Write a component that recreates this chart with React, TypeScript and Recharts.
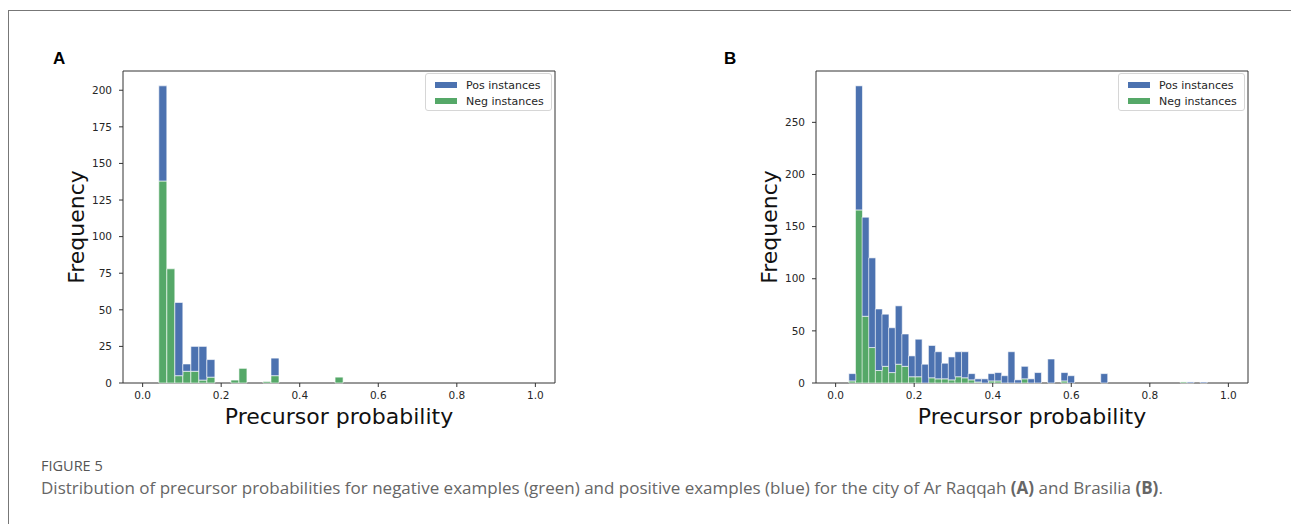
import React from "react";
import { Bar, BarChart, Legend, ReferenceArea, XAxis, YAxis } from "recharts";

const POS_COLOR = "#4C72B0";
const NEG_COLOR = "#55A868";
const AXIS_COLOR = "#333";
const FONT = "'DejaVu Sans', sans-serif";

// bin centres and counts
// A: Ar Raqqah
const binsA = [
	0.0514, 0.0718, 0.0922, 0.1126, 0.133, 0.1534, 0.1738, 0.1942, 0.2146, 0.235,
	0.2554, 0.2758, 0.2962, 0.3166, 0.337, 0.3574, 0.3778, 0.3982, 0.4186, 0.439,
	0.4594, 0.4798, 0.5002,
];
const negA = [138, 78, 5, 8, 8, 2, 4, 0, 0, 2, 10, 0, 0, 1, 5, 0, 0, 0, 0, 0, 0, 0, 4];
const posA = [65, 0, 50, 5, 17, 23, 12, 0, 0, 0, 0, 0, 0, 0, 12, 0, 0, 0, 0, 0, 0, 0, 0];

// B: Brasilia
const binsB = [
	0.042, 0.0589, 0.0758, 0.0926, 0.1095, 0.1264, 0.1433, 0.1602, 0.177, 0.1939,
	0.2108, 0.2277, 0.2446, 0.2614, 0.2783, 0.2952, 0.3121, 0.329, 0.3458, 0.3627,
	0.3796, 0.3965, 0.4134, 0.4302, 0.4471, 0.464, 0.4809, 0.4978, 0.5146, 0.5315,
	0.5484, 0.5653, 0.5822, 0.599, 0.6159, 0.6328, 0.6497, 0.6666, 0.6834, 0.7003,
	0.7172, 0.7341, 0.751, 0.7678, 0.7847, 0.8016, 0.8185, 0.8354, 0.8522, 0.8691,
	0.886, 0.9029, 0.9198, 0.9366,
];
const negB = [
	2, 166, 64, 34, 12, 16, 10, 18, 16, 6,
	6, 0, 5, 4, 4, 3, 6, 5, 3, 1,
	0, 2, 2, 0, 0, 0, 4, 0, 0, 0,
	0, 0, 2, 0, 0, 0, 0, 0, 0, 0,
	0, 0, 0, 0, 0, 0, 0, 0, 0, 0,
	1, 0, 0, 0,
];
const posB = [
	7, 119, 95, 86, 59, 50, 43, 56, 31, 20,
	36, 18, 31, 26, 15, 22, 24, 25, 6, 3,
	4, 7, 8, 7, 30, 3, 12, 4, 10, 0,
	23, 0, 8, 7, 0, 0, 0, 0, 9, 0,
	0, 0, 0, 0, 0, 0, 0, 0, 0, 0,
	0, 1, 0, 1,
];

const xTicks = [0, 0.2, 0.4, 0.6, 0.8, 1.0];
const yTicksA = [0, 25, 50, 75, 100, 125, 150, 175, 200];
const yTicksB = [0, 50, 100, 150, 200, 250];

const tickStyle = { fontSize: 10.5, fill: "#262626", fontFamily: FONT };

const LegendBox = ({ payload }: any) => {
	const items = [...(payload || [])].reverse();
	return (
		<div
			style={{
				boxSizing: "border-box",
				width: 127,
				height: 38,
				border: "1px solid #d6d6d6",
				borderRadius: 3,
				background: "rgba(255,255,255,0.8)",
				padding: "3px 0 0 9px",
				fontFamily: FONT,
				fontSize: 11,
				color: "#262626",
			}}
		>
			{items.map((p: any) => (
				<div
					key={p.value}
					style={{ display: "flex", alignItems: "center", height: 16 }}
				>
					<span
						style={{
							display: "inline-block",
							width: 22,
							height: 6,
							background: p.color,
							marginRight: 9,
						}}
					/>
					{p.value}
				</div>
			))}
		</div>
	);
};

const yLabel = (props: any) => {
	const { x, y, width, height } = props.viewBox;
	const cx = x + width - 39;
	const cy = y + height / 2;
	return (
		<text
			x={cx}
			y={cy}
			transform={`rotate(-90 ${cx} ${cy})`}
			textAnchor="middle"
			fontFamily={FONT}
			fontSize={22}
			fill="#111"
		>
			Frequency
		</text>
	);
};

const xLabel = (props: any) => {
	const { x, y, width } = props.viewBox;
	return (
		<text
			x={x + width / 2}
			y={y + 41}
			textAnchor="middle"
			fontFamily={FONT}
			fontSize={22}
			fill="#111"
		>
			Precursor probability
		</text>
	);
};

interface PanelProps {
	bins: number[];
	neg: number[];
	pos: number[];
	yTicks: number[];
	yMax: number;
	left: number;
	yAxisWidth: number;
	rightMargin: number;
	letter: string;
}

function Panel({ bins, neg, pos, yTicks, yMax, left, yAxisWidth, rightMargin, letter }: PanelProps) {
	const data = bins.map((x, i) => ({ x, neg: neg[i], pos: pos[i] }));
	const plotRight = 600 - rightMargin;
	return (
		<div style={{ position: "absolute", left, top: 0 }}>
			<div
				style={{
					position: "absolute",
					left: letter === "A" ? 53 : 34,
					top: 50,
					fontFamily: "'Liberation Sans', Arial, sans-serif",
					fontWeight: 700,
					fontSize: 17,
					lineHeight: "17px",
					color: "#000",
				}}
			>
				{letter}
			</div>
			<BarChart
				width={600}
				height={440}
				data={data}
				margin={{ top: 71, right: rightMargin, bottom: 0, left: 0 }}
				barCategoryGap={0}
				barGap={0}
			>
				<XAxis
					dataKey="x"
					type="number"
					domain={[-0.05, 1.05]}
					ticks={xTicks}
					interval={0}
					tickFormatter={(v: number) => v.toFixed(1)}
					height={57}
					tickSize={4}
					tickMargin={5}
					axisLine={false}
					tickLine={{ stroke: AXIS_COLOR }}
					tick={tickStyle}
					label={{ content: xLabel }}
				/>
				<YAxis
					type="number"
					domain={[0, yMax]}
					ticks={yTicks}
					interval={0}
					width={yAxisWidth}
					tickSize={4}
					tickMargin={7}
					axisLine={false}
					tickLine={{ stroke: AXIS_COLOR }}
					tick={tickStyle}
					label={{ content: yLabel }}
				/>
				<Bar
					dataKey="neg"
					name="Neg instances"
					stackId="h"
					fill={NEG_COLOR}
					stroke="#fff"
					strokeWidth={0.6}
					isAnimationActive={false}
				/>
				<Bar
					dataKey="pos"
					name="Pos instances"
					stackId="h"
					fill={POS_COLOR}
					stroke="#fff"
					strokeWidth={0.6}
					isAnimationActive={false}
				/>
				<ReferenceArea
					x1={-0.05}
					x2={1.05}
					y1={0}
					y2={yMax}
					fill="none"
					stroke={AXIS_COLOR}
					strokeWidth={1}
				/>
				<Legend
					layout="vertical"
					align="center"
					verticalAlign="middle"
					content={<LegendBox />}
					wrapperStyle={{ left: plotRight - 130, top: 73, width: 127, height: 38 }}
				/>
			</BarChart>
		</div>
	);
}

export default function App() {
	return (
		<div
			style={{
				position: "absolute",
				left: 0,
				top: 0,
				width: 1291,
				height: 524,
				overflow: "hidden",
				background: "#fff",
			}}
		>
			<div
				style={{
					position: "absolute",
					left: 8,
					top: 10,
					width: 1400,
					height: 700,
					border: "1px solid #777",
				}}
			/>
			<Panel
				bins={binsA}
				neg={negA}
				pos={posA}
				yTicks={yTicksA}
				yMax={213.15}
				left={0}
				yAxisWidth={123}
				rightMargin={45}
				letter="A"
			/>
			<Panel
				bins={binsB}
				neg={negB}
				pos={posB}
				yTicks={yTicksB}
				yMax={299.25}
				left={690}
				yAxisWidth={126}
				rightMargin={42}
				letter="B"
			/>
			<div
				style={{
					position: "absolute",
					left: 41,
					top: 456,
					fontFamily: "'Open Sans', sans-serif",
					fontSize: 14.5,
					fontWeight: 500,
					color: "#555",
				}}
			>
				FIGURE 5
			</div>
			<div
				style={{
					position: "absolute",
					left: 41,
					top: 476,
					fontFamily: "'Open Sans', sans-serif",
					fontSize: 17,
					color: "#666",
					whiteSpace: "nowrap",
				}}
			>
				Distribution of precursor probabilities for negative examples (green) and
				positive examples (blue) for the city of Ar Raqqah <b>(A)</b> and Brasilia{" "}
				<b>(B)</b>.
			</div>
		</div>
	);
}
